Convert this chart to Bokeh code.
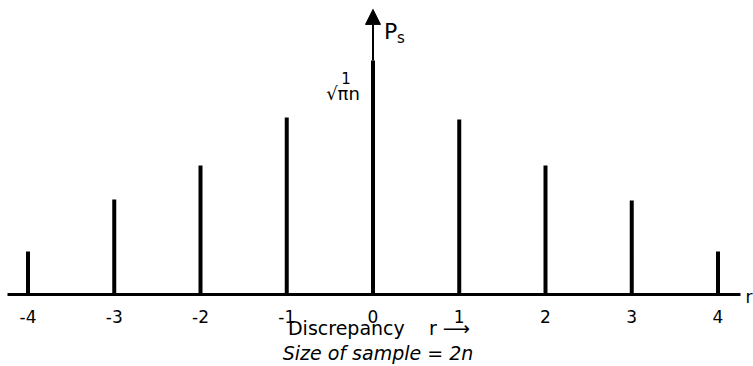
from bokeh.plotting import figure
from bokeh.models import (FixedTicker, LinearAxis, Label, Arrow, NormalHead,
                          Range1d, ColumnDataSource)
from bokeh.embed import file_html
from bokeh.resources import INLINE

# ---- data (heights in units of 1/sqrt(pi n)) ----
r_values = [-4, -3, -2, -1, 0, 1, 2, 3, 4]
probabilities = [0.184, 0.406, 0.551, 0.756, 1.0, 0.748, 0.551, 0.402, 0.184]
tick_labels = ["-4", "-3", "-2", "-1", "0", "1", "2", "3", "4"]
axis_bounds = (-4.24, 4.26)

NB = "\u00A0"
x_title = "Discrepancy" + NB * 4 + "r" + NB + "\u27F6"
x_subtitle = "Size of sample = 2n"
y_title = "P"
y_title_sub = "s"
peak_label_num = "1"
peak_label_den = "\u221A\u03C0n"
axis_end_label = "r"

FONT = "DejaVu Sans"

W, H = 753, 366
x_lo, x_hi = -4.3188, 4.4116
y_lo, y_hi = -0.3077, 1.2564

p = figure(width=W, height=H, output_backend="svg", toolbar_location=None,
           x_range=Range1d(x_lo, x_hi), y_range=Range1d(y_lo, y_hi),
           min_border_left=0, min_border_right=0, min_border_top=0,
           min_border_bottom=0, x_axis_type=None, y_axis_type=None)
p.outline_line_color = None
p.background_fill_color = "white"
p.border_fill_color = "white"

src = ColumnDataSource(dict(r=r_values, p=probabilities, base=[0] * len(r_values)))
p.segment(x0="r", y0="base", x1="r", y1="p", source=src,
          line_width=4, line_color="black")

# x axis drawn at y = 0 with tick labels
xaxis = LinearAxis(ticker=FixedTicker(ticks=r_values), fixed_location=0,
                   bounds=axis_bounds,
                   major_label_overrides={r: l for r, l in zip(r_values, tick_labels)})
xaxis.axis_line_width = 3
xaxis.axis_line_color = "black"
xaxis.major_tick_line_color = None
xaxis.minor_tick_line_color = None
xaxis.major_tick_out = 0
xaxis.major_tick_in = 0
xaxis.major_label_standoff = 16
xaxis.major_label_text_font = FONT
xaxis.major_label_text_font_size = "17px"
xaxis.major_label_text_color = "black"
p.add_layout(xaxis, "below")

# axis titles under the tick labels
p.add_layout(Label(x=0, y=0, x_offset=6, y_offset=-34, text=x_title,
                   text_font=FONT, text_font_size="19px", text_color="black",
                   text_align="center", text_baseline="alphabetic"))
p.add_layout(Label(x=0, y=0, x_offset=5, y_offset=-59, text=x_subtitle,
                   text_font=FONT, text_font_size="19px", text_color="black",
                   text_font_style="italic",
                   text_align="center", text_baseline="alphabetic"))

# vertical axis arrow above the central bar
peak = max(probabilities)
p.add_layout(Arrow(x_start=0, y_start=peak, x_end=0, y_end=y_hi - 0.038,
                   line_width=2, line_color="black",
                   end=NormalHead(size=15, fill_color="black", line_color="black",
                                  line_width=1)))

p.add_layout(Label(x=0, y=peak, x_offset=11, y_offset=29, text=y_title,
                   text_font=FONT, text_font_size="22px", text_color="black",
                   text_baseline="alphabetic"))
p.add_layout(Label(x=0, y=peak, x_offset=24, y_offset=22, text=y_title_sub,
                   text_font=FONT, text_font_size="15px", text_color="black",
                   text_baseline="alphabetic"))
p.add_layout(Label(x=0, y=peak, x_offset=-27, y_offset=-18, text=peak_label_num,
                   text_font=FONT, text_font_size="15px", text_color="black",
                   text_align="center", text_baseline="alphabetic"))
p.add_layout(Label(x=0, y=peak, x_offset=-30, y_offset=-33, text=peak_label_den,
                   text_font=FONT, text_font_size="18px", text_color="black",
                   text_align="center", text_baseline="alphabetic"))

p.add_layout(Label(x=axis_bounds[1], y=0, x_offset=5, y_offset=-3, text=axis_end_label,
                   text_font=FONT, text_font_size="17px", text_color="black",
                   text_baseline="alphabetic"))

open("out.html", "w").write(file_html(p, INLINE))
